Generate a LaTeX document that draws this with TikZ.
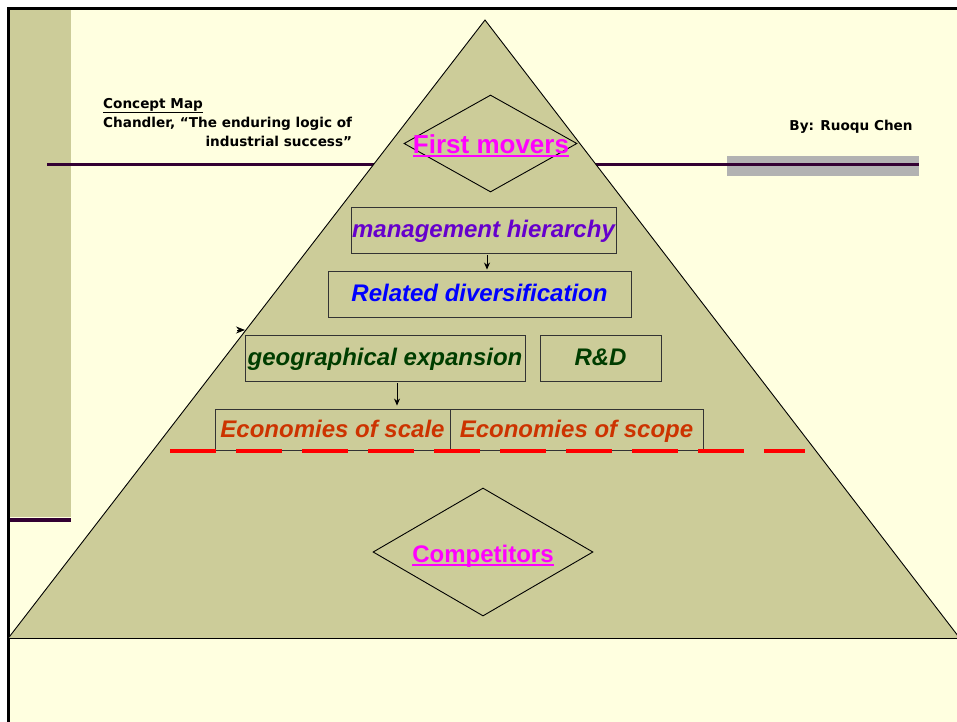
\documentclass[tikz,border=0pt]{standalone}
\usepackage{fontspec}
\setmainfont{Liberation Sans}
\newfontfamily\notefont{DejaVu Sans}
\usetikzlibrary{shapes.geometric,arrows.meta}
\definecolor{slidebg}{HTML}{FFFFE0}
\definecolor{olive}{HTML}{CCCC99}
\definecolor{plum}{HTML}{330033}
\definecolor{bargray}{HTML}{B2B2B2}
\definecolor{pinkish}{HTML}{FF00FF}
\definecolor{mgmtcol}{HTML}{6600CC}
\definecolor{divcol}{HTML}{0000FF}
\definecolor{geocol}{HTML}{003D00}
\definecolor{ecocol}{HTML}{CC3300}
\tikzset{
  conceptbox/.style={draw=black!80,line width=0.9pt,inner sep=0pt,
    text height=17pt,text depth=2pt,
    font=\fontsize{24}{26}\selectfont\bfseries\itshape},
  diam/.style={diamond,draw=black,line width=0.9pt,inner sep=0pt},
  tag/.style={text=pinkish,inner sep=0pt,font=\fontsize{24}{26}\selectfont\bfseries},
  tagline/.style={pinkish,line width=2pt},
  note/.style={font=\notefont\bfseries\fontsize{13.6}{19}\selectfont,inner sep=0pt},
  link/.style={-{Stealth[length=7pt,width=6pt]},line width=0.8pt}
}
\begin{document}
\begin{tikzpicture}[x=1pt,y=-1pt]
  \useasboundingbox (0,0) rectangle (957,721);
  \clip (0,0) rectangle (957,721);
  \fill[white] (0,0) rectangle (957,721);
  \fill[slidebg] (8,8) rectangle (960,725);
  \fill[olive] (8,8) rectangle (71,517);
  \draw[plum,line width=4pt] (8,519.5) -- (71,519.5);
  \fill[bargray] (727,156) rectangle (919,176);
  \draw[plum,line width=3pt] (47,164.5) -- (919,164.5);
  \draw[black,line width=3pt] (8.5,725) -- (8.5,8.5) -- (960,8.5);

  \node[note,anchor=base west] (title) at (103,108) {\underline{Concept Map}};
  \node[note,anchor=base west,align=right] (source) at (103,146)
    {Chandler, “The enduring logic of\\industrial success”};
  \node[note,anchor=base] (author) at (851,130) {By: Ruoqu Chen};

  \fill[olive,draw=black,line width=0.9pt] (485,20) -- (8,638.5) -- (960,638.5) -- cycle;

  \node[diam,minimum width=173,minimum height=97] (first) at (490.5,143.5) {};
  \node[tag,font=\fontsize{26}{28}\selectfont\bfseries,anchor=base] (firsttext) at (491,153) {First movers};
  \draw[tagline] ([yshift=-3pt]firsttext.base west) -- ([yshift=-3pt]firsttext.base east);

  \node[conceptbox,text=mgmtcol,minimum width=265,minimum height=46] (mgmt) at (483.5,230) {management hierarchy};
  \node[conceptbox,text=divcol,minimum width=303,minimum height=46] (related) at (479.5,294) {Related diversification};
  \node[conceptbox,text=geocol,minimum width=280,minimum height=46] (geo) at (385,358) {geographical expansion};
  \node[conceptbox,text=geocol,minimum width=121,minimum height=46] (rd) at (600.5,358) {R\&D};
  \node[conceptbox,text=ecocol,minimum width=235,minimum height=41] (scale) at (332.5,429.5) {Economies of scale};
  \node[conceptbox,text=ecocol,minimum width=253,minimum height=41] (scope) at (576.5,429.5) {Economies of scope};

  \draw[red,line width=4pt,dash pattern=on 46pt off 20pt] (170,450.5) -- (805,450.5);

  \node[diam,minimum width=220,minimum height=128] (comp) at (483,552) {};
  \node[tag,anchor=base] (comptext) at (483,562) {Competitors};
  \draw[tagline] ([yshift=-3pt]comptext.base west) -- ([yshift=-3pt]comptext.base east);

  \draw[link,shorten >=1pt,shorten <=2pt] ([xshift=3.5pt]mgmt.south) -- ([xshift=3.5pt]mgmt.south |- related.north);
  \draw[link,shorten >=3pt,shorten <=2pt] ([xshift=12pt]geo.south) -- ([xshift=12pt]geo.south |- scale.north);

  \coordinate (stub) at (237,330);
  \draw[-{Stealth[length=9pt,width=7pt]},line width=0.8pt] (stub) -- ++(8,0);
\end{tikzpicture}
\end{document}
